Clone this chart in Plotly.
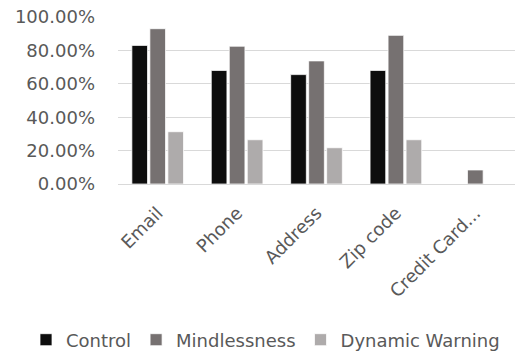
import plotly.graph_objects as go

categories = ["Email", "Phone", "Address", "Zip code", "Credit Card..."]
control = [0.83, 0.68, 0.655, 0.68, None]
mindlessness = [0.93, 0.825, 0.737, 0.89, 0.084]
dynamic_warning = [0.313, 0.265, 0.217, 0.265, None]
y_ticks = [0, 0.2, 0.4, 0.6, 0.8, 1.0]

series = [
    ("Control", control, "#0d0d0d"),
    ("Mindlessness", mindlessness, "#767171"),
    ("Dynamic Warning", dynamic_warning, "#aeabab"),
]

FONT = "DejaVu Sans"
TXT = "#595959"

L, R, T, B, W, H = 118, 0, 17, 168, 515, 352
plot_w = W - L - R
plot_h = H - T - B

fig = go.Figure()
for name, vals, col in series:
    fig.add_trace(go.Bar(
        x=categories, y=vals, name=name,
        marker=dict(color=col, line=dict(color="white", width=0.75)),
    ))

fig.update_layout(
    template="none",
    width=W, height=H,
    margin=dict(l=L, r=R, t=T, b=B, autoexpand=False),
    paper_bgcolor="white", plot_bgcolor="white",
    barmode="group", bargap=0.32, bargroupgap=0.13,
    font=dict(family=FONT, size=18, color=TXT),
    showlegend=True,
    legend=dict(
        orientation="h",
        x=(26 - L) / plot_w, xanchor="left",
        y=((H - B) - 340) / plot_h, yanchor="middle",
        font=dict(family=FONT, size=18, color=TXT),
        itemwidth=30, tracegroupgap=0, bgcolor="rgba(0,0,0,0)",
    ),
)
fig.update_xaxes(
    tickangle=-45, showgrid=False, gridcolor="rgba(0,0,0,0)", gridwidth=0,
    showline=False, ticks="", zeroline=False, ticklabelstandoff=14,
    automargin=False,
    tickfont=dict(family=FONT, size=18, color=TXT),
)
fig.update_yaxes(
    range=[0, 1.0], tickvals=y_ticks, tickformat=".2%",
    showgrid=True, gridcolor="#d9d9d9", gridwidth=1,
    zeroline=True, zerolinecolor="#d9d9d9", zerolinewidth=1,
    showline=False, ticks="", ticklabelstandoff=22, automargin=False,
    tickfont=dict(family=FONT, size=18, color=TXT),
)

fig.write_html("out.html")
